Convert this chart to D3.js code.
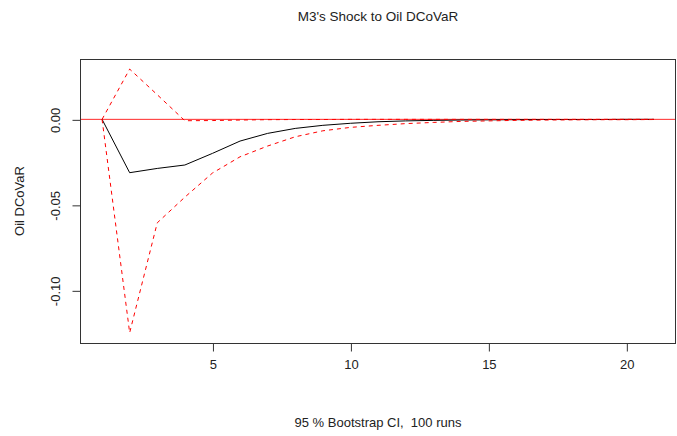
<html>
<head>
    <meta charset="utf-8">
    <script src="https://cdn.jsdelivr.net/npm/d3@7"></script>
    <style>
        body { margin: 0; background: #fff; font-family: "Liberation Sans", Arial, sans-serif; }
        text { fill: #222; white-space: pre; }
    </style>
</head>
<body>
<svg id="Chart"></svg>
<script>
    // impulse response horizon
    let steps = [1, 2, 3, 4, 5, 6, 7, 8, 9, 10, 11, 12, 13, 14, 15, 16, 17, 18, 19, 20, 21]
    let irf = [0, -0.0312, -0.0287, -0.0267, -0.0199, -0.0127, -0.0082, -0.0053, -0.0035, -0.0023, -0.0014,
               -0.0009, -0.0006, -0.0004, -0.0003, -0.0002, -0.0001, -0.0001, -0.0001, 0, 0]
    let lower = [0, -0.1248, -0.0605, -0.0455, -0.0314, -0.0219, -0.0156, -0.0102, -0.0067, -0.0047, -0.0035,
                 -0.0025, -0.0018, -0.0012, -0.0009, -0.0006, -0.0004, -0.0003, -0.0002, -0.0002, -0.0001]
    let upper = [0, 0.0294, 0.0144, -0.0008, -0.0007, -0.0004, -0.0002, -0.0001, -0.0001, 0, 0,
                 0, 0, 0, 0, 0, 0, 0, 0, 0, 0]
    let xTicks = [5, 10, 15, 20]
    let yTicks = [0, -0.05, -0.10]

    let width = 677, height = 436
    let margin = { top: 59, bottom: 93, left: 80, right: 1 }
    let bodyWidth = width - margin.left - margin.right
    let bodyHeight = height - margin.top - margin.bottom

    let svg = d3.select("#Chart").attr("width", width).attr("height", height)

    // R style 4% padding around the data range
    let xScale = d3.scaleLinear().domain([0.2, 21.8]).range([margin.left, margin.left + bodyWidth])
    let yScale = d3.scaleLinear().domain([-0.1308, 0.0353]).range([margin.top + bodyHeight, margin.top])

    let line = d3.line().x((d, i) => xScale(steps[i])).y(d => yScale(d))

    // zero line
    svg.append("line")
        .attr("x1", margin.left).attr("x2", margin.left + bodyWidth)
        .attr("y1", yScale(0)).attr("y2", yScale(0))
        .attr("stroke", "#ff2a2a").attr("stroke-width", 1)

    svg.append("path").datum(irf)
        .attr("d", line).attr("fill", "none")
        .attr("stroke", "#000").attr("stroke-width", 1)

    ;[lower, upper].forEach(band => {
        svg.append("path").datum(band)
            .attr("d", line).attr("fill", "none")
            .attr("stroke", "#ff0000").attr("stroke-width", 1)
            .attr("stroke-dasharray", "4,4")
    })

    // box
    svg.append("rect")
        .attr("x", margin.left + 0.5).attr("y", margin.top + 0.5)
        .attr("width", bodyWidth - 1).attr("height", bodyHeight)
        .attr("fill", "none").attr("stroke", "#333").attr("stroke-width", 1)

    let axisX = d3.axisBottom(xScale).tickValues(xTicks).tickSize(8).tickPadding(8)
    let gx = svg.append("g")
        .attr("transform", `translate(0.5,${margin.top + bodyHeight + 0.5})`)
        .call(axisX)
    gx.select(".domain").remove()
    gx.selectAll("line").attr("stroke", "#333")
    gx.selectAll("text").attr("font-size", 13).attr("font-family", "Liberation Sans, Arial, sans-serif")

    let fmt = d3.format(".2f")
    let axisY = d3.axisLeft(yScale).tickValues(yTicks)
        .tickFormat(d => fmt(d).replace("\u2212", "-")).tickSize(8)
    let gy = svg.append("g")
        .attr("transform", `translate(${margin.left + 0.5},0.5)`)
        .call(axisY)
    gy.select(".domain").remove()
    gy.selectAll("line").attr("stroke", "#333")
    gy.selectAll("text")
        .attr("font-size", 13).attr("font-family", "Liberation Sans, Arial, sans-serif")
        .attr("text-anchor", "middle")
        .attr("dy", "0.35em")
        .attr("x", 0)
        .attr("transform", d => `translate(-25,0) rotate(-90)`)

    svg.append("text")
        .attr("x", (margin.left + margin.left + bodyWidth) / 2).attr("y", 21)
        .attr("text-anchor", "middle").attr("font-size", 13.5)
        .text("M3's Shock to Oil DCoVaR")

    svg.append("text")
        .attr("x", (margin.left + margin.left + bodyWidth) / 2).attr("y", 427)
        .attr("text-anchor", "middle").attr("font-size", 13)
        .text("95 % Bootstrap CI,  100 runs")

    svg.append("text")
        .attr("transform", `translate(24,${margin.top + bodyHeight / 2}) rotate(-90)`)
        .attr("text-anchor", "middle").attr("font-size", 13)
        .text("Oil DCoVaR")
</script>
</body>
</html>
